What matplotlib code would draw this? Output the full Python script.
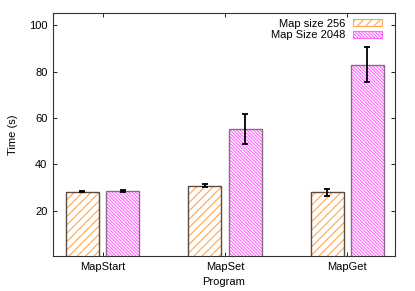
import matplotlib
matplotlib.use("Agg")
import matplotlib.pyplot as plt
import numpy as np

plt.rcParams['font.family'] = ['Liberation Sans', 'DejaVu Sans']
plt.rcParams['hatch.linewidth'] = 0.8

programs = ["MapStart", "MapSet", "MapGet"]
size256 = [28.3, 30.8, 28.0]
size256_err = [0.3, 0.7, 1.5]
size2048 = [28.5, 55.3, 83.0]
size2048_err = [0.5, 6.4, 7.5]

fig = plt.figure(figsize=(4.15, 2.91), dpi=100)
ax = fig.add_axes([53/415, 1-256/291, 342/415, 243/291])

x = np.arange(len(programs))
w = 0.27
off = 0.165

# hatch fill first, then outline on top
ax.bar(x - off, size256, w, color="white", edgecolor="#ffa64d", hatch="////", linewidth=0, label="Map size 256")
ax.bar(x - off, size256, w, fill=False, edgecolor="#5a4a40", linewidth=1.0)
ax.bar(x + off, size2048, w, color="white", edgecolor="#ff66ff", hatch="\\" * 10, linewidth=0, label="Map Size 2048")
ax.bar(x + off, size2048, w, fill=False, edgecolor="#8a6a8a", linewidth=1.0)

ax.errorbar(x - off, size256, yerr=size256_err, fmt="none", ecolor="black", elinewidth=1.3, capsize=2, capthick=1.3)
ax.errorbar(x + off, size2048, yerr=size2048_err, fmt="none", ecolor="black", elinewidth=1.3, capsize=2, capthick=1.3)

ax.set_xlim(-0.405, 2.39)
ax.set_ylim(0.6, 105.2)
ax.set_xticks(x)
ax.set_xticklabels(programs)
ax.set_yticks([20, 40, 60, 80, 100])
ax.tick_params(direction="in", top=True, right=True, labelsize=8, length=3, width=0.6, pad=4)
for s in ax.spines.values():
    s.set_linewidth(0.8)
    s.set_color("#333333")

ax.set_xlabel("Program", fontsize=8, labelpad=4)
ax.set_ylabel("Time (s)", fontsize=8, labelpad=8)

leg = ax.legend(loc="upper right", bbox_to_anchor=(0.975, 0.995), frameon=False, markerfirst=False,
                fontsize=8, handlelength=2.6, handleheight=0.6, borderaxespad=0, labelspacing=0.12,
                handletextpad=0.7)
for h in leg.legend_handles:
    h.set_linewidth(0.8)

fig.savefig("out.png", dpi=100)
